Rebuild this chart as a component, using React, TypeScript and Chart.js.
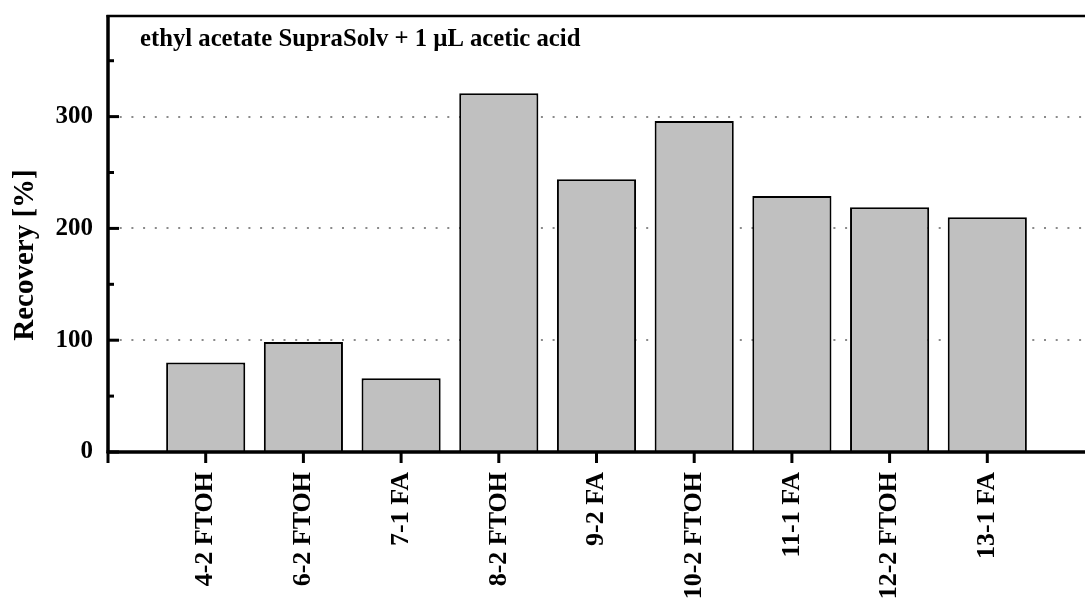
import React, { useEffect, useRef } from 'react';
import { Chart, registerables } from 'chart.js';

Chart.register(...registerables);

const categories = ['4-2 FTOH', '6-2 FTOH', '7-1 FA', '8-2 FTOH', '9-2 FA', '10-2 FTOH', '11-1 FA', '12-2 FTOH', '13-1 FA'];
const recovery = [80, 98.5, 66, 321, 244, 296, 229, 219, 210];
const yMajorTicks = [0, 100, 200, 300];
const yMinorTicks = [50, 150, 250, 350];
const yMax = 390;
const annotationText = 'ethyl acetate SupraSolv + 1 \u00b5L acetic acid';
const yTitle = 'Recovery [%]';

const labels = ['', ...categories, ''];
const values = [null, ...recovery, null];

const FONT = '"Liberation Serif", "Times New Roman", serif';

const originAxes = {
  id: 'originAxes',
  afterDatasetsDraw(chart: any) {
    const { ctx, chartArea: a, scales } = chart;
    const xs = scales.x;
    const ys = scales.y;
    const line = (x1: number, y1: number, x2: number, y2: number) => {
      ctx.beginPath();
      ctx.moveTo(x1, y1);
      ctx.lineTo(x2, y2);
      ctx.stroke();
    };
    ctx.save();
    ctx.strokeStyle = '#000';
    ctx.lineCap = 'butt';
    ctx.lineWidth = 3;
    yMajorTicks.forEach((v) => {
      const py = ys.getPixelForValue(v);
      line(a.left, py, a.left + 11, py);
    });
    yMinorTicks.forEach((v) => {
      const py = ys.getPixelForValue(v);
      line(a.left, py, a.left + 6, py);
    });
    for (let i = 0; i < labels.length - 1; i++) {
      const px = xs.getPixelForValue(i);
      line(px, a.bottom, px, a.bottom + 11);
    }
    ctx.lineWidth = 3.5;
    line(a.left, a.top - 1, a.left, a.bottom + 1);
    line(a.left - 1.5, a.bottom, a.right, a.bottom);
    ctx.lineWidth = 2.5;
    line(a.left - 1.5, a.top, a.right, a.top);

    ctx.fillStyle = '#000';
    ctx.font = `bold 24.7px ${FONT}`;
    ctx.textAlign = 'left';
    ctx.textBaseline = 'alphabetic';
    ctx.fillText(annotationText, a.left + 32, a.top + 30);

    ctx.translate(26, 255);
    ctx.rotate(-Math.PI / 2);
    ctx.font = `bold 29px ${FONT}`;
    ctx.textAlign = 'center';
    ctx.textBaseline = 'middle';
    ctx.fillText(yTitle, 0, 0);
    ctx.restore();
  },
};

export default function App() {
  const canvasRef = useRef<HTMLCanvasElement | null>(null);

  useEffect(() => {
    if (!canvasRef.current) return;
    const chart = new Chart(canvasRef.current, {
      type: 'bar',
      data: {
        labels,
        datasets: [
          {
            data: values as any,
            backgroundColor: '#c0c0c0',
            borderColor: '#000',
            borderWidth: 2,
            barPercentage: 0.81,
            categoryPercentage: 1,
          },
        ],
      },
      options: {
        responsive: false,
        animation: false,
        events: [],
        layout: { padding: { top: 16, right: 0, left: 0, bottom: 0 } },
        plugins: { legend: { display: false }, tooltip: { enabled: false } },
        scales: {
          x: {
            type: 'category',
            offset: false,
            grid: { display: false, drawTicks: false },
            border: { display: false },
            ticks: {
              autoSkip: false,
              maxRotation: 90,
              minRotation: 90,
              padding: 20,
              color: '#000',
              font: { family: FONT, size: 26, weight: 'bold' },
            },
            afterFit: (s: any) => {
              s.height = 151;
              s.paddingLeft = 0;
              s.paddingRight = 0;
            },
          },
          y: {
            min: 0,
            max: yMax,
            grid: {
              drawTicks: false,
              lineWidth: 2,
              color: (c: any) => (c.tick && c.tick.value === 0 ? 'rgba(0,0,0,0)' : '#8a8a8a'),
            },
            border: { display: false, dash: [2, 9.7] },
            afterBuildTicks: (s: any) => {
              s.ticks = yMajorTicks.map((v) => ({ value: v }));
            },
            ticks: {
              padding: 15,
              color: '#000',
              font: { family: FONT, size: 25, weight: 'bold' },
            },
            afterFit: (s: any) => {
              s.width = 108;
              s.paddingTop = 0;
              s.paddingBottom = 0;
            },
          },
        },
      },
      plugins: [originAxes],
    });
    return () => chart.destroy();
  }, []);

  return (
    <div style={{ position: 'fixed', left: 0, top: 0, width: 1085, height: 603, background: '#fff' }}>
      <canvas ref={canvasRef} width={1085} height={603} style={{ display: 'block' }} />
    </div>
  );
}
